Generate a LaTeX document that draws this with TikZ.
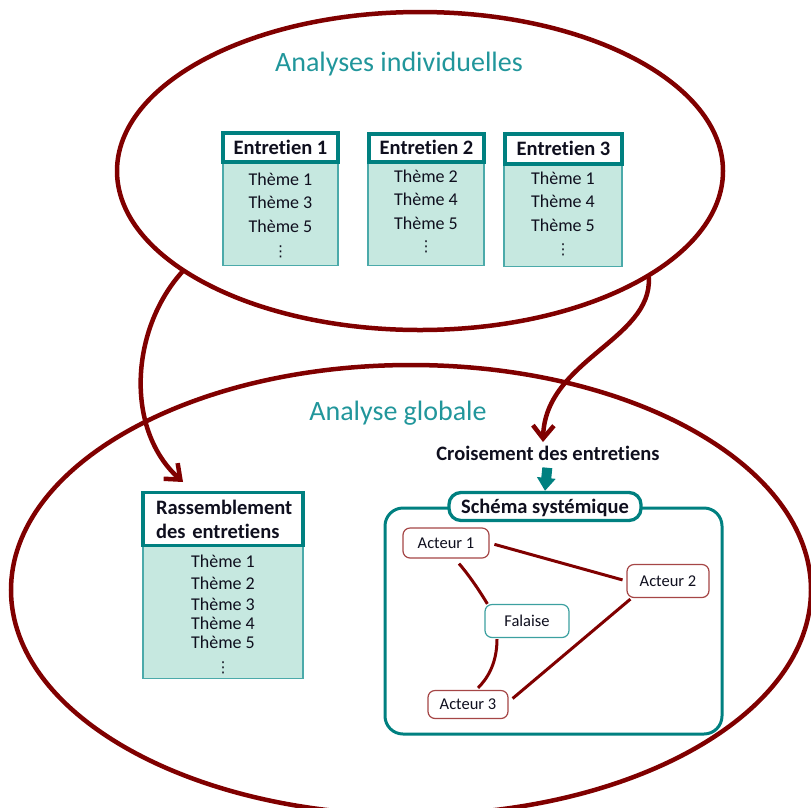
\documentclass[tikz,border=0pt]{standalone}
\usepackage{fontspec}
\setmainfont{Carlito}[Ligatures=NoCommon]
\newfontfamily\dvfont{DejaVu Sans}
\usetikzlibrary{arrows.meta,shapes.geometric}
\definecolor{maroonc}{RGB}{128,0,0}
\definecolor{tealc}{RGB}{0,128,128}
\definecolor{tealdark}{RGB}{0,105,105}
\definecolor{titlec}{RGB}{33,150,155}
\definecolor{fillc}{RGB}{198,232,224}
\definecolor{bodyline}{RGB}{75,170,170}
\definecolor{actline}{RGB}{165,70,70}
\definecolor{falline}{RGB}{60,160,160}
\definecolor{inkc}{RGB}{15,15,30}
\begin{document}
\begin{tikzpicture}[x=1pt,y=-1pt,
  bigell/.style={ellipse, draw=maroonc, line width=4.5pt, inner sep=0pt},
  bigarrow/.style={draw=maroonc, line width=4.5pt, line cap=round, -{Straight Barb[length=13pt,width=21pt]}},
  titletxt/.style={font=\fontsize{28}{32}\selectfont, text=titlec, inner sep=0pt, text height=18pt, text depth=0pt},
  hdr/.style={draw=tealc, line width=3.3pt, fill=white, inner sep=0pt, text=inkc,
     font=\fontsize{20.5}{24}\selectfont\bfseries, text height=13.2pt, text depth=0pt},
  bodybox/.style={draw=bodyline, line width=1.3pt, fill=fillc, inner sep=0pt},
  th/.style={font=\fontsize{18}{22}\selectfont, text=inkc, inner sep=0pt, text height=11.6pt, text depth=0pt},
  dts/.style={font=\dvfont\fontsize{15}{18}\selectfont, text=inkc, inner sep=0pt},
  boldtxt/.style={font=\fontsize{20.5}{24}\selectfont\bfseries, text=inkc, inner sep=0pt, text height=13.2pt, text depth=0pt},
  actor/.style={draw=actline, line width=1.2pt, rounded corners=7pt, fill=white, inner sep=0pt,
     font=\fontsize{16.5}{20}\selectfont, text=inkc, text height=10.6pt, text depth=0pt},
  falbox/.style={actor, draw=falline},
  link/.style={draw=maroonc, line width=3pt},
  framebox/.style={draw=tealc, line width=3pt, rounded corners=18pt, inner sep=0pt},
  stitle/.style={draw=tealc, line width=3.3pt, rounded corners=12pt, fill=white, inner sep=0pt,
     font=\fontsize{20.5}{24}\selectfont\bfseries, text=inkc, text height=13.2pt, text depth=0pt},
  blockarrow/.style={draw=tealdark, line width=10pt, -{Triangle[length=13pt,width=18pt]}, tealc}
]
\useasboundingbox (0,0) rectangle (811,807);

% big ellipses
\node[bigell, minimum width=606pt, minimum height=318pt] (indiv) at (420,171) {};
\node[bigell, minimum width=800pt, minimum height=450pt] (glob) at (411,590) {};

% titles
\node[titletxt] (t1) at (399,62) {Analyses individuelles};
\node[titletxt] (t2) at (398,411) {Analyse globale};

% Entretien bodies
\node[bodybox, minimum width=115pt, minimum height=102pt, anchor=north] (b1) at (280.5,163) {};
\node[bodybox, minimum width=116pt, minimum height=102pt, anchor=north] (b2) at (426,163) {};
\node[bodybox, minimum width=118pt, minimum height=101pt, anchor=north] (b3) at (563,165) {};

% Entretien headers
\node[hdr, minimum width=115pt, minimum height=29pt] (h1) at (280.5,147.5) {Entretien 1};
\node[hdr, minimum width=115pt, minimum height=28pt] (h2) at (426.5,148) {Entretien 2};
\node[hdr, minimum width=117pt, minimum height=30pt] (h3) at (563.5,149) {Entretien 3};

% themes box 1
\node[th] (e1a) at (280.5,180) {Thème 1};
\node[th] (e1b) at (280.5,203) {Thème 3};
\node[th] (e1c) at (280.5,227) {Thème 5};
\node[dts] (e1d) at (280.5,252) {⋮};
% themes box 2
\node[th] (e2a) at (426,177) {Thème 2};
\node[th] (e2b) at (426,200) {Thème 4};
\node[th] (e2c) at (426,224) {Thème 5};
\node[dts] (e2d) at (426,247) {⋮};
% themes box 3
\node[th] (e3a) at (563,179) {Thème 1};
\node[th] (e3b) at (563,202) {Thème 4};
\node[th] (e3c) at (563,226) {Thème 5};
\node[dts] (e3d) at (563,250) {⋮};

% Rassemblement
\node[bodybox, minimum width=160pt, minimum height=133pt, anchor=north] (rb) at (223,545) {};
\node[hdr, minimum height=53pt, text width=134pt, inner xsep=13pt, align=left,
      font=\fontsize{20.5}{24}\selectfont\bfseries, text height=, text depth=, anchor=north] (rh) at (223,491)
      {Rassemblement\\des entretiens};
\node[th] (r1) at (223,562) {Thème 1};
\node[th] (r2) at (223,584) {Thème 2};
\node[th] (r3) at (223,605) {Thème 3};
\node[th] (r4) at (223,624) {Thème 4};
\node[th] (r5) at (223,643) {Thème 5};
\node[dts] (r6) at (223,668) {⋮};

% Schema
\node[framebox, minimum width=337pt, minimum height=226pt] (fr) at (553.5,621) {};
\node[stitle, minimum width=192pt, minimum height=28pt] (sch) at (545,506.5) {Schéma systémique};
\node[boldtxt] (cr) at (548,454) {Croisement des entretiens};
\draw[blockarrow, shorten <=7pt] (cr.south) -- (sch.north);

\node[actor, minimum width=86pt, minimum height=30pt] (a1) at (446,543) {Acteur 1};
\node[actor, minimum width=82pt, minimum height=33pt] (a2) at (668,581) {Acteur 2};
\node[falbox, minimum width=84pt, minimum height=33pt] (fal) at (527,621) {Falaise};
\node[actor, minimum width=80pt, minimum height=28pt] (a3) at (468,704.5) {Acteur 3};

\draw[link, shorten <=5pt, shorten >=4pt] (a1.east) -- (a2.west);
\draw[link] ([xshift=13pt,yshift=-5pt]a1.south) .. controls +(12,14) and +(-6,-10) .. ([xshift=3pt]fal.north west);
\draw[link] ([xshift=-30pt,yshift=-1pt]fal.south) .. controls +(0,26) and +(8,-8) .. ([xshift=10pt,yshift=2pt]a3.north);
\draw[link] ([xshift=4pt,yshift=-1pt]a2.south west) -- ([xshift=4pt,yshift=6pt]a3.east);

% big curved arrows
\coordinate (ltip) at (183,482);
\coordinate (rtip) at (543,442);
\draw[bigarrow] (indiv.203) .. controls (130,330) and (125,430) .. (ltip);
\draw[bigarrow] (indiv.-25) .. controls (652,340) and (545,360) .. (rtip);
\end{tikzpicture}
\end{document}
